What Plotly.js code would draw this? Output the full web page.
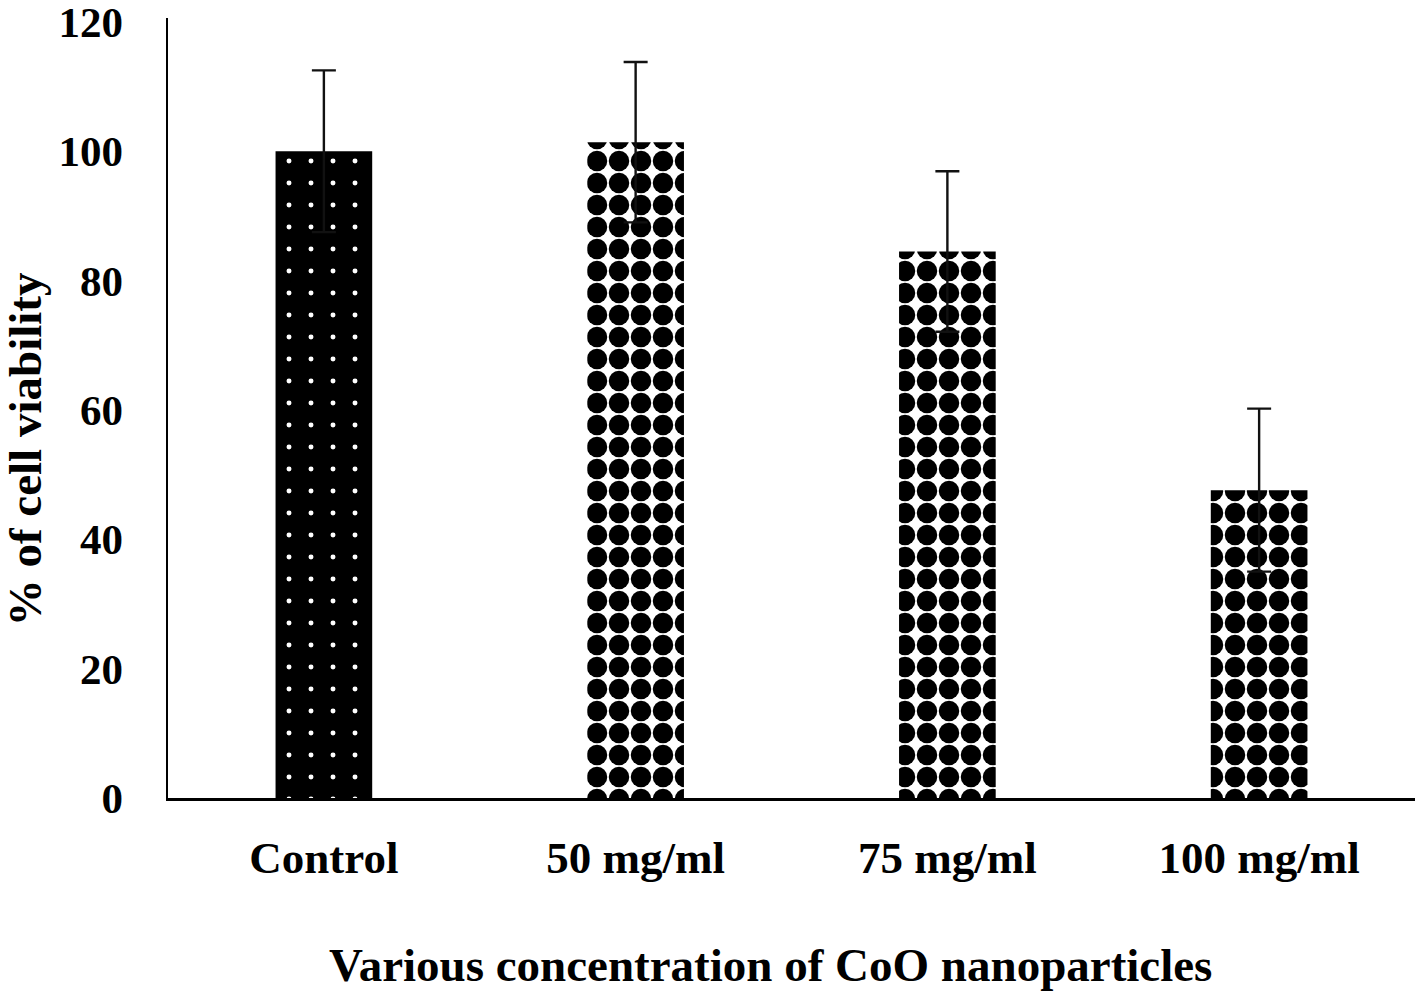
<!DOCTYPE html>
<html>
<head>
<meta charset="utf-8">
<script src="https://cdn.plot.ly/plotly-3.0.1.min.js"></script>
<style>html,body{margin:0;padding:0;background:#fff;}#chart{width:1418px;height:994px;}</style>
</head>
<body>
<div id="chart"></div>
<script>
const categories = ["Control", "50 mg/ml", "75 mg/ml", "100 mg/ml"];
const viability = [100, 101.4, 84.5, 47.6];
const errors = [12.5, 12.4, 12.4, 12.6];
const yTicks = [0, 20, 40, 60, 80, 100, 120];
const xTitle = "Various concentration of CoO nanoparticles";
const yTitle = "% of cell viability";

const font = "Liberation Serif, Times New Roman, serif";

const traceControl = {
  type: "bar",
  x: [categories[0]],
  y: [viability[0]],
  error_y: {type: "data", array: [errors[0]], visible: true, color: "#111", thickness: 2.4, width: 12},
  marker: {color: "#000", line: {width: 0},
    pattern: {shape: ".", bgcolor: "#000", fgcolor: "#fff", size: 22, solidity: 0.04, fillmode: "replace"}},
  hoverinfo: "skip", showlegend: false
};
const traceCoO = {
  type: "bar",
  x: categories.slice(1),
  y: viability.slice(1),
  error_y: {type: "data", array: errors.slice(1), visible: true, color: "#111", thickness: 2.4, width: 12},
  marker: {color: "#fff", line: {width: 0},
    pattern: {shape: ".", bgcolor: "#fff", fgcolor: "#000", size: 22, solidity: 0.68, fillmode: "replace"}},
  hoverinfo: "skip", showlegend: false
};

const layout = {
  width: 1418, height: 994,
  margin: {l: 168, r: 3, t: 18, b: 196},
  paper_bgcolor: "#fff", plot_bgcolor: "#fff",
  barmode: "group", bargap: 0.69,
  font: {family: font, color: "#000"},
  xaxis: {
    type: "category",
    showline: true, linecolor: "#000", linewidth: 2.5,
    ticks: "", ticklabelstandoff: 18,
    tickfont: {family: font, size: 45, color: "#000", weight: "bold"},
    showgrid: false, zeroline: false, fixedrange: true
  },
  yaxis: {
    range: [0, 120.6], tickvals: yTicks, ticktext: yTicks.map(String),
    showline: true, linecolor: "#000", linewidth: 2.5,
    ticks: "", ticklabelstandoff: 34, ticklabeloverflow: "allow",
    tickfont: {family: font, size: 43, color: "#000", weight: "bold"},
    showgrid: false, zeroline: false, fixedrange: true
  },
  annotations: [
    {text: "<b>" + xTitle + "</b>", xref: "paper", yref: "paper", x: 0.4828, y: -0.2142,
     xanchor: "center", yanchor: "middle", showarrow: false, font: {family: font, size: 47, color: "#000"}},
    {text: "<b>" + yTitle + "</b>", xref: "paper", yref: "paper", x: -0.1147, y: 0.447, textangle: -90,
     xanchor: "center", yanchor: "middle", showarrow: false, font: {family: font, size: 47, color: "#000"}}
  ]
};

Plotly.newPlot("chart", [traceControl, traceCoO], layout, {displayModeBar: false, staticPlot: true});
</script>
</body>
</html>
